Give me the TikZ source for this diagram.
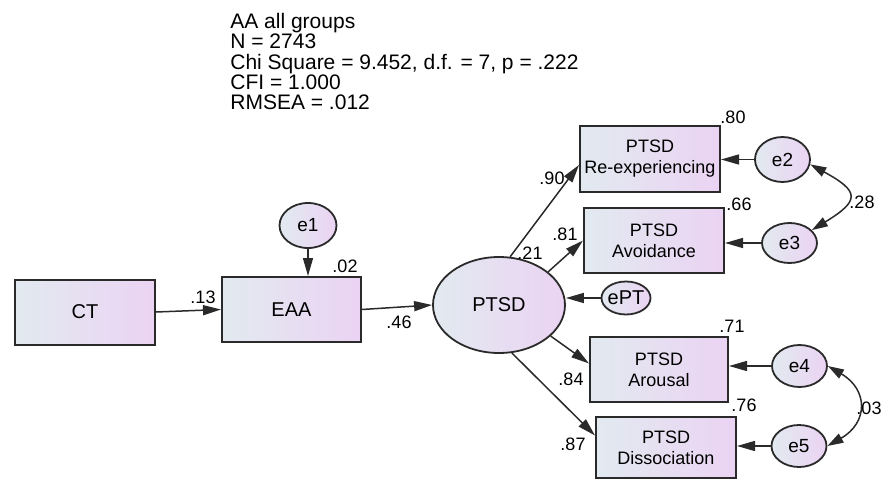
\documentclass[tikz,border=0pt]{standalone}
\usepackage{fontspec}
\setmainfont{Liberation Sans}
\usetikzlibrary{arrows.meta,shapes.geometric}
\definecolor{fillL}{HTML}{E2EAF0}
\definecolor{fillR}{HTML}{EBD3F3}
\definecolor{edge}{HTML}{2A2A2A}
\tikzset{
  obsbox/.style={draw=edge, line width=1pt, rectangle, left color=fillL, right color=fillR,
    inner sep=0pt, align=center, minimum width=70pt, minimum height=32.5pt,
    font=\fontsize{9}{10.5}\selectfont},
  latent/.style={draw=edge, line width=0.9pt, ellipse, left color=fillL, right color=fillR, inner sep=0pt},
  errvar/.style={latent, minimum width=27.5pt, minimum height=22pt, font=\fontsize{9.5}{11}\selectfont},
  regarrow/.style={draw=edge, line width=0.75pt, -{Triangle[length=9pt,width=5pt]}},
  covarrow/.style={draw=edge, line width=0.75pt, {Triangle[length=8pt,width=5pt]}-{Triangle[length=8pt,width=5pt]}},
  coef/.style={inner sep=0pt, font=\fontsize{9}{10.5}\selectfont},
  fitline/.style={anchor=base west, inner sep=0pt, font=\fontsize{10.5}{12}\selectfont}
}
\begin{document}
\begin{tikzpicture}[x=0.5pt,y=-0.5pt]
\useasboundingbox (0,0) rectangle (891,482);
% fit statistics
\node[fitline] (fitA) at (230,28) {AA all groups};
\node[fitline] (fitB) at (230,48.5) {N = 2743};
\node[fitline] (fitC) at (230,69) {Chi Square = 9.452, d.f. = 7, p = .222};
\node[fitline] (fitD) at (230,89.5) {CFI = 1.000};
\node[fitline] (fitE) at (230,110) {RMSEA = .012};
% observed variables
\node[obsbox, font=\fontsize{10}{12}\selectfont] (CT) at (85,312) {CT};
\node[obsbox, minimum width=69.5pt, font=\fontsize{10}{12}\selectfont] (EAA) at (291.5,309.5) {EAA};
\node[obsbox, minimum height=33pt] (reexp) at (650,159) {PTSD\\Re-experiencing};
\node[obsbox] (avoid) at (654,240.5) {PTSD\\Avoidance};
\node[obsbox, minimum width=69pt] (arousal) at (659,369.5) {PTSD\\Arousal};
\node[obsbox, minimum height=30.5pt] (dissoc) at (666,447.5) {PTSD\\Dissociation};
% latent and errors
\node[latent, minimum width=66pt, minimum height=48pt, font=\fontsize{10}{12}\selectfont] (PTSD) at (499,305) {PTSD};
\node[errvar, minimum width=28.5pt, minimum height=22.5pt] (e1) at (308,225.5) {e1};
\node[errvar, inner xsep=-0.5pt, minimum width=24pt, minimum height=16.5pt, font=\fontsize{10}{12}\selectfont] (ePT) at (626,298) {ePT};
\node[errvar, minimum height=22.5pt] (e2) at (782.5,159.5) {e2};
\node[errvar, minimum height=20pt] (e3) at (789.5,243) {e3};
\node[errvar, minimum height=21pt] (e4) at (799.5,366) {e4};
\node[errvar, minimum height=21pt] (e5) at (799,446) {e5};
% paths
\draw[regarrow] (CT.east) -- (EAA.west);
\draw[regarrow] (e1) -- (e1 |- EAA.north);
\draw[regarrow] (EAA.east) -- (PTSD.west);
\draw[regarrow] (ePT) -- (ePT -| PTSD.east);
\draw[regarrow] (PTSD.77) -- ([yshift=-3pt]reexp.west);
\draw[regarrow] (PTSD.34) -- (avoid.west);
\draw[regarrow] (PTSD.-31) -- ([yshift=3pt]arousal.west);
\draw[regarrow] (PTSD.-75) -- ([yshift=6pt]dissoc.west);
\draw[regarrow] (e2) -- (e2 -| reexp.east);
\draw[regarrow] (e3) -- (e3 -| avoid.east);
\draw[regarrow] (e4) -- (e4 -| arousal.east);
\draw[regarrow] (e5) -- (e5 -| dissoc.east);
\draw[covarrow] (e2.-10) to[bend left=60, looseness=2.2] (e3.30);
\draw[covarrow] (e4.east) to[bend left=60, looseness=1.5] (e5.east);
% estimates
\node[coef] (w13) at (203,297) {.13};
\node[coef] (r02) at (345,266) {.02};
\node[coef] (w46) at (399,322) {.46};
\node[coef] (r21) at (530,253) {.21};
\node[coef] (w90) at (552,178) {.90};
\node[coef] (w81) at (565,234) {.81};
\node[coef] (w84) at (571,379) {.84};
\node[coef] (w87) at (573,444) {.87};
\node[coef] (r80) at (733,117) {.80};
\node[coef] (r66) at (739,204) {.66};
\node[coef] (r71) at (732,326) {.71};
\node[coef] (r76) at (744,405) {.76};
\node[coef] (c28) at (862,202) {.28};
\node[coef] (c03) at (869,408) {.03};
\end{tikzpicture}
\end{document}
